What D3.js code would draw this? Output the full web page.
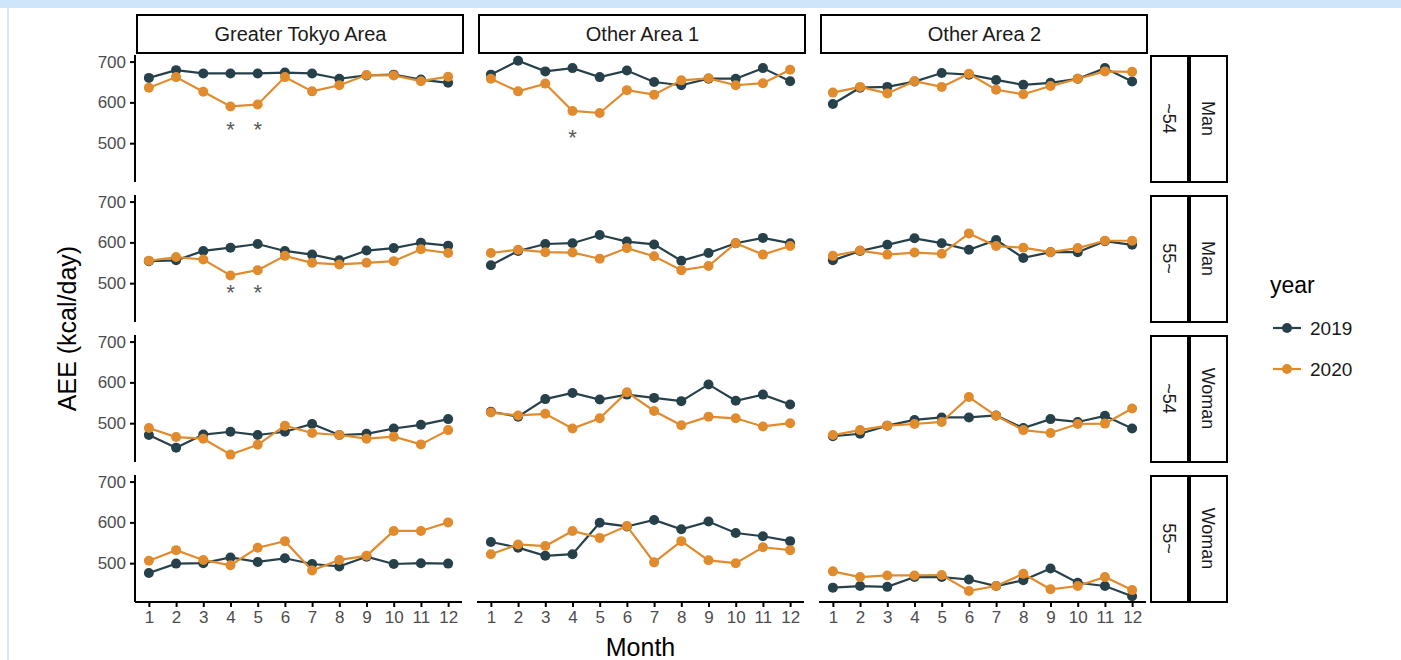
<!DOCTYPE html>
<html>
<head>
<meta charset="utf-8">
<script src="https://cdn.jsdelivr.net/npm/d3@7"></script>
<style>
  body { margin: 0; background: #fff; }
  svg { display: block; font-family: "Liberation Sans", Arial, sans-serif; }
</style>
</head>
<body>
<div id="chart"></div>
<script>
// facets
const areas = ['Greater Tokyo Area', 'Other Area 1', 'Other Area 2'];
const ageGroups = ['~54', '55~', '~54', '55~'];
const sexGroups = ['Man', 'Man', 'Woman', 'Woman'];
const months = [1, 2, 3, 4, 5, 6, 7, 8, 9, 10, 11, 12];
const years = ['2019', '2020'];
const yTicks = [500, 600, 700];

// AEE values, one array per row (age/sex) x area, 12 months each
const tokyoMan54_2019 = [660, 679, 671, 671, 671, 673, 671, 658, 666, 668, 656, 648];
const tokyoMan54_2020 = [636, 662, 626, 590, 595, 662, 627, 642, 667, 666, 652, 663];
const other1Man54_2019 = [668, 702, 676, 684, 662, 678, 650, 642, 658, 658, 684, 652];
const other1Man54_2020 = [658, 627, 646, 579, 574, 630, 619, 654, 659, 642, 647, 680];
const other2Man54_2019 = [596, 636, 638, 651, 672, 668, 655, 643, 648, 658, 684, 651];
const other2Man54_2020 = [624, 638, 622, 652, 638, 670, 631, 620, 640, 658, 676, 675];

const tokyoMan55_2019 = [554, 556, 579, 587, 596, 579, 570, 556, 580, 586, 599, 592];
const tokyoMan55_2020 = [555, 564, 558, 519, 532, 567, 550, 546, 550, 554, 583, 574];
const other1Man55_2019 = [544, 579, 596, 598, 618, 602, 595, 555, 574, 598, 611, 598];
const other1Man55_2020 = [574, 582, 576, 575, 560, 586, 566, 532, 542, 598, 570, 591];
const other2Man55_2019 = [556, 579, 594, 610, 598, 582, 606, 562, 576, 576, 603, 594];
const other2Man55_2020 = [567, 580, 570, 575, 572, 622, 591, 587, 576, 586, 604, 604];

const tokyoWoman54_2019 = [471, 440, 472, 479, 471, 479, 498, 471, 474, 487, 496, 510];
const tokyoWoman54_2020 = [488, 466, 462, 423, 447, 494, 476, 471, 462, 467, 448, 483];
const other1Woman54_2019 = [528, 516, 559, 574, 558, 570, 562, 554, 595, 555, 570, 546];
const other1Woman54_2020 = [526, 519, 523, 487, 512, 576, 530, 495, 516, 512, 492, 500];
const other2Woman54_2019 = [468, 474, 494, 508, 514, 514, 519, 488, 510, 503, 518, 487];
const other2Woman54_2020 = [471, 483, 494, 498, 503, 564, 518, 483, 476, 498, 499, 536];

const tokyoWoman55_2019 = [476, 499, 500, 514, 503, 512, 498, 492, 516, 498, 500, 499];
const tokyoWoman55_2020 = [506, 532, 508, 495, 538, 554, 482, 508, 518, 579, 579, 600];
const other1Woman55_2019 = [552, 538, 518, 522, 599, 590, 606, 583, 602, 574, 566, 554];
const other1Woman55_2020 = [522, 546, 542, 579, 562, 591, 502, 554, 507, 500, 539, 532];
const other2Woman55_2019 = [440, 444, 442, 466, 466, 460, 444, 458, 487, 452, 444, 419];
const other2Woman55_2020 = [480, 466, 470, 470, 471, 432, 444, 474, 436, 444, 466, 434];

// significance marks: [row, col, month, level]
const starRows = [0, 0, 0, 1, 1];
const starCols = [0, 0, 1, 0, 0];
const starMonths = [4, 5, 4, 4, 5];
const starLevels = [544, 544, 526, 488, 488];

const seriesGrid = [
    [[tokyoMan54_2019, tokyoMan54_2020], [other1Man54_2019, other1Man54_2020], [other2Man54_2019, other2Man54_2020]],
    [[tokyoMan55_2019, tokyoMan55_2020], [other1Man55_2019, other1Man55_2020], [other2Man55_2019, other2Man55_2020]],
    [[tokyoWoman54_2019, tokyoWoman54_2020], [other1Woman54_2019, other1Woman54_2020], [other2Woman54_2019, other2Woman54_2020]],
    [[tokyoWoman55_2019, tokyoWoman55_2020], [other1Woman55_2019, other1Woman55_2020], [other2Woman55_2019, other2Woman55_2020]]
];

const colors = { '2019': '#27414b', '2020': '#e08b2d' };

const width = 1401, height = 660;
const panelLeft = 135, panelW = 327, colStep = 342;
const panelTop = 55, panelH = 127, rowStep = 140;

const svg = d3.select('#chart').append('svg')
    .attr('width', width)
    .attr('height', height);

// window frame bits from the screenshot
svg.append('rect').attr('x', 0).attr('y', 0).attr('width', width).attr('height', 8).attr('fill', '#cfe6f8');
svg.append('line').attr('x1', 8).attr('x2', 8).attr('y1', 8).attr('y2', height).attr('stroke', '#b9cfe0').attr('stroke-width', 1);

const allVals = seriesGrid.flat(2).flat();
const [vMin, vMax] = d3.extent(allVals);
const pad = (vMax - vMin) * 0.05;

const x = d3.scaleLinear().domain([0.49, 12.51]).range([0, panelW]);
const y = d3.scaleLinear().domain([vMin - pad, vMax + pad]).range([panelH, 0]);

const line = d3.line().x((d, i) => x(months[i])).y(d => y(d));

seriesGrid.forEach((row, r) => {
    row.forEach((cell, c) => {
        const g = svg.append('g')
            .attr('transform', `translate(${panelLeft + c * colStep},${panelTop + r * rowStep})`);

        cell.forEach((vals, k) => {
            const col = colors[years[k]];
            g.append('path')
                .attr('d', line(vals))
                .attr('fill', 'none')
                .attr('stroke', col)
                .attr('stroke-width', 2.2);
            g.selectAll(null)
                .data(vals)
                .enter()
                .append('circle')
                .attr('cx', (d, i) => x(months[i]))
                .attr('cy', d => y(d))
                .attr('r', 5)
                .attr('fill', col);
        });

        // y axis on first column
        if (c === 0) {
            const ay = g.append('g').call(d3.axisLeft(y).tickValues(yTicks).tickSize(5).tickPadding(4));
            ay.select('.domain').attr('stroke', '#000').attr('stroke-width', 2);
            ay.selectAll('.tick line').attr('stroke', '#000').attr('stroke-width', 2);
            ay.selectAll('.tick text').attr('fill', '#4d4d4d').style('font-size', '17px')
                .style('font-family', '"Liberation Sans", Arial, sans-serif');
            ay.select('.domain').attr('d', `M0,0V${panelH}`);
        }
        // x axis on last row
        if (r === seriesGrid.length - 1) {
            const ax = g.append('g')
                .attr('transform', `translate(0,${panelH})`)
                .call(d3.axisBottom(x).tickValues(months).tickFormat(d3.format('d')).tickSize(5).tickPadding(4));
            ax.select('.domain').attr('stroke', '#000').attr('stroke-width', 2).attr('d', `M0,0H${panelW}`);
            ax.selectAll('.tick line').attr('stroke', '#000').attr('stroke-width', 2);
            ax.selectAll('.tick text').attr('fill', '#4d4d4d').style('font-size', '17px')
                .style('font-family', '"Liberation Sans", Arial, sans-serif');
        }

        // top strip
        if (r === 0) {
            svg.append('rect')
                .attr('x', panelLeft + c * colStep + 2)
                .attr('y', 15)
                .attr('width', panelW - 1)
                .attr('height', 38)
                .attr('fill', '#fff')
                .attr('stroke', '#000')
                .attr('stroke-width', 2);
            svg.append('text')
                .attr('x', panelLeft + c * colStep + 2 + panelW / 2)
                .attr('y', 34)
                .attr('dy', '0.35em')
                .attr('text-anchor', 'middle')
                .attr('fill', '#1a1a1a')
                .style('font-size', '20px')
                .text(areas[c]);
        }
    });

    // right strips
    const stripLabels = [ageGroups[r], sexGroups[r]];
    [1151, 1190].forEach((sx, j) => {
        svg.append('rect')
            .attr('x', sx)
            .attr('y', panelTop + r * rowStep + 1)
            .attr('width', 37)
            .attr('height', panelH - 1)
            .attr('fill', '#fff')
            .attr('stroke', '#000')
            .attr('stroke-width', 2);
        const cx = sx + 18.5, cy = panelTop + r * rowStep + panelH / 2;
        svg.append('text')
            .attr('transform', `translate(${cx},${cy}) rotate(90)`)
            .attr('dy', '0.35em')
            .attr('text-anchor', 'middle')
            .attr('fill', '#1a1a1a')
            .style('font-size', '18px')
            .text(stripLabels[j]);
    });
});

// significance asterisks
starRows.forEach((r, i) => {
    svg.append('text')
        .attr('x', panelLeft + starCols[i] * colStep + x(starMonths[i]))
        .attr('y', panelTop + r * rowStep + y(starLevels[i]) + 12)
        .attr('text-anchor', 'middle')
        .attr('fill', '#595959')
        .style('font-size', '22px')
        .text('*');
});

// axis titles
svg.append('text')
    .attr('transform', `translate(76,${panelTop + (3 * rowStep + panelH) / 2}) rotate(-90)`)
    .attr('text-anchor', 'middle')
    .attr('fill', '#000')
    .style('font-size', '25px')
    .text('AEE (kcal/day)');

svg.append('text')
    .attr('x', panelLeft + (2 * colStep + panelW) / 2)
    .attr('y', 656)
    .attr('text-anchor', 'middle')
    .attr('fill', '#000')
    .style('font-size', '25px')
    .text('Month');

// legend
const legend = svg.append('g').attr('transform', 'translate(1270,0)');
legend.append('text')
    .attr('x', 0).attr('y', 293)
    .attr('fill', '#000')
    .style('font-size', '23px')
    .text('year');
years.forEach((yr, i) => {
    const ly = 328 + i * 41;
    legend.append('line')
        .attr('x1', 3).attr('x2', 31).attr('y1', ly).attr('y2', ly)
        .attr('stroke', colors[yr]).attr('stroke-width', 2.2);
    legend.append('circle')
        .attr('cx', 17).attr('cy', ly).attr('r', 5)
        .attr('fill', colors[yr]);
    legend.append('text')
        .attr('x', 40).attr('y', ly)
        .attr('dy', '0.35em')
        .attr('fill', '#1a1a1a')
        .style('font-size', '19px')
        .text(yr);
});
</script>
</body>
</html>
